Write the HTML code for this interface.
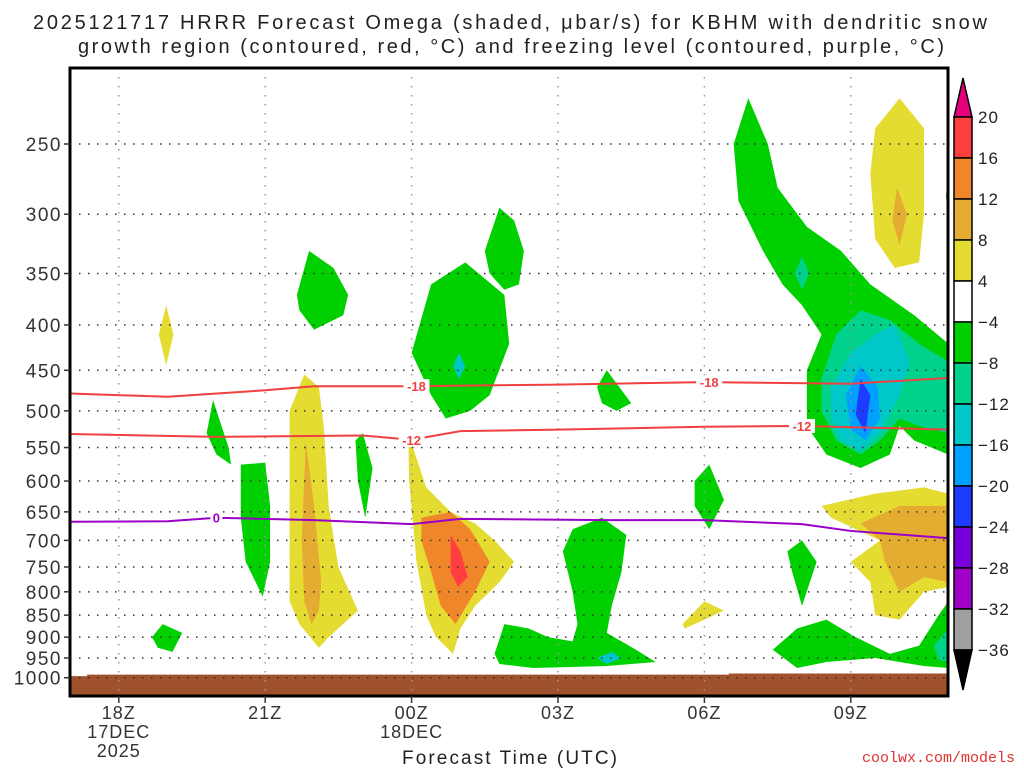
<!DOCTYPE html>
<html><head><meta charset="utf-8"><style>
body{margin:0;background:#fff;}
svg{display:block;font-family:"Liberation Sans",sans-serif;}
</style></head><body>
<svg id="chart" width="1024" height="768" viewBox="0 0 1024 768" xmlns="http://www.w3.org/2000/svg">
<text x="33" y="29" font-size="20" textLength="954" lengthAdjust="spacing" fill="#222">2025121717 HRRR Forecast Omega (shaded, μbar/s) for KBHM with dendritic snow</text>
<text x="78" y="53" font-size="20" textLength="866" lengthAdjust="spacing" fill="#222">growth region (contoured, red, °C) and freezing level (contoured, purple, °C)</text>
<g id="plot"></g>
<g id="cbar"></g>
<text x="402" y="764" font-size="19" textLength="215" lengthAdjust="spacing" fill="#222">Forecast Time (UTC)</text>
<text x="1015" y="762" font-size="15" text-anchor="end" fill="#e03030" font-family="Liberation Mono, monospace">coolwx.com/models</text>
</svg>
<script>
// hours since 17Z 17DEC; pressure hPa
const pTicks=[250,300,350,400,450,500,550,600,650,700,750,800,850,900,950,1000];
const tTickHours=[1,4,7,10,13,16];
const tTickLabels=[["18Z","17DEC","2025"],["21Z"],["00Z","18DEC"],["03Z"],["06Z"],["09Z"]];
const cbarLabels=["20","16","12","8","4","\u22124","\u22128","\u221212","\u221216","\u221220","\u221224","\u221228","\u221232","\u221236"];
const cbarColors=["#ff3f3f","#f0862a","#e5ac32","#e5dc32","#ffffff","#00d000","#00d28c","#00c8c8","#00a0ff","#1e3cff","#7800dc","#a000c8","#a0a0a0"];
const lineHours=[0,2,4,5,7,10,13,16,18];
const dgzTop=[478,482,474,469,469,467,464,466,459];
const dgzBottomHours=[0,3,6,7,8,10,13,15,18];
const dgzBottom=[531,535,533,539,527,525,521,520,525];
const frzHours=[0,2,3,5,7,8,11,13,15,16,18];
const frzLevel=[667,666,660,664,671,662,664,664,671,683,696];
const sfcHours=[0,0.35,0.35,13.5,13.5,18];
const sfcPres=[996,996,992,992,989,989];
const blobs=[
 ["#e5dc32",[[1.97,380],[2.12,410],[1.97,444],[1.82,410]]],
 ["#00d000",[[1.68,900],[1.9,870],[2.3,890],[2.1,935],[1.8,925]]],
 ["#00d000",[[2.93,486],[3.25,550],[3.3,575],[3.0,560],[2.8,530]]],
 ["#00d000",[[3.5,575],[4.0,572],[4.1,640],[4.1,740],[3.95,810],[3.6,740],[3.5,660]]],
 ["#e5dc32",[[4.5,500],[4.8,455],[5.1,470],[5.2,520],[5.3,640],[5.5,750],[5.9,840],[5.3,900],[5.1,925],[4.7,870],[4.5,820],[4.5,600]]],
 ["#e5ac32",[[4.83,540],[5.0,640],[5.15,780],[5.1,840],[4.95,870],[4.8,820],[4.75,700]]],
 ["#00d000",[[4.65,370],[4.9,330],[5.4,345],[5.7,370],[5.6,390],[5.0,405],[4.7,385]]],
 ["#00d000",[[5.85,540],[6.0,530],[6.2,580],[6.05,660],[5.9,600]]],
 ["#00d000",[[7.0,430],[7.4,360],[8.1,340],[8.9,370],[9.0,420],[8.6,480],[8.2,500],[7.7,510],[7.4,480]]],
 ["#00c8c8",[[7.97,430],[8.1,445],[7.97,460],[7.85,445]]],
 ["#e5dc32",[[6.93,530],[7.3,610],[7.8,650],[8.3,670],[8.7,700],[9.1,740],[8.8,780],[8.3,830],[8.0,880],[7.85,940],[7.5,900],[7.3,850],[7.1,740],[6.95,600]]],
 ["#f0862a",[[7.2,660],[7.8,650],[8.2,680],[8.6,740],[8.3,800],[7.9,870],[7.6,830],[7.4,760],[7.2,700]]],
 ["#ff3f3f",[[7.8,690],[8.0,720],[8.15,770],[7.95,790],[7.8,760]]],
 ["#00d000",[[8.5,330],[8.8,295],[9.1,305],[9.3,330],[9.2,360],[8.9,365],[8.6,350]]],
 ["#00d000",[[8.7,940],[8.9,870],[9.4,880],[9.8,900],[10.3,910],[10.4,870],[10.3,800],[10.1,720],[10.3,680],[10.9,660],[11.4,690],[11.3,760],[11.1,830],[11.0,890],[11.6,930],[12.0,960],[11.0,970],[9.5,975],[8.8,965]]],
 ["#00c8c8",[[10.8,950],[11.1,935],[11.3,950],[11.0,965]]],
 ["#00d000",[[10.8,470],[11.0,450],[11.5,490],[11.2,500],[10.9,490]]],
 ["#00d000",[[12.8,600],[13.1,575],[13.4,630],[13.1,680],[12.8,640]]],
 ["#e5dc32",[[12.55,870],[13.0,820],[13.4,840],[13.0,860],[12.6,880]]],
 ["#00d000",[[14.7,720],[15.0,700],[15.3,740],[15.0,830],[14.8,760]]],
 ["#00d000",[[13.6,250],[13.9,222],[14.3,250],[14.5,280],[15.1,310],[15.8,330],[16.4,360],[17.3,390],[18,420],[18,560],[17.3,540],[17.0,520],[16.8,560],[16.2,580],[15.5,560],[15.1,520],[15.1,450],[15.4,410],[15.0,380],[14.6,360],[14.2,330],[13.7,290]]],
 ["#00d28c",[[15.4,460],[15.7,410],[16.2,385],[16.8,395],[17.4,420],[18,440],[18,530],[17.4,520],[17.0,510],[16.6,540],[16.2,560],[15.7,540],[15.4,500]]],
 ["#00d28c",[[15.0,335],[15.15,350],[15.0,365],[14.85,350]]],
 ["#00c8c8",[[15.6,470],[16.0,430],[16.5,410],[16.9,400],[17.2,440],[17.0,480],[16.6,530],[16.2,555],[15.8,540],[15.6,510]]],
 ["#00a0ff",[[15.9,480],[16.2,445],[16.55,470],[16.6,510],[16.3,540],[16.0,525]]],
 ["#1e3cff",[[16.2,460],[16.4,480],[16.3,530],[16.1,505]]],
 ["#e5dc32",[[16.4,270],[16.5,240],[17.0,222],[17.5,240],[17.5,300],[17.4,340],[16.9,345],[16.5,320]]],
 ["#e5ac32",[[16.95,280],[17.15,300],[17.0,325],[16.85,305]]],
 ["#e5dc32",[[15.4,640],[16.5,620],[17.5,610],[18,620],[18,790],[17.5,800],[17.0,860],[16.5,850],[16.4,780],[16.0,740],[16.6,700],[15.6,660]]],
 ["#e5ac32",[[16.2,670],[17,640],[18,640],[18,780],[17.5,770],[17.0,800],[16.7,740],[16.6,700]]],
 ["#00d000",[[14.4,930],[14.9,880],[15.5,860],[16.1,900],[16.8,940],[17.4,920],[17.8,850],[18,820],[18,975],[17.5,970],[16.5,950],[15.5,960],[14.9,975]]],
 ["#00d28c",[[17.7,920],[18,880],[18,960],[17.8,955]]],
 ["#00d000",[[17.95,285],[18,275],[18,310]]]
];
const L=70,R=948,T=68,B=696;
const X=h=>L+h*48.8;
const Y=p=>144+385*Math.log(p/250);
const NS="http://www.w3.org/2000/svg";
function mk(parent,tag,attrs){const e=document.createElementNS(NS,tag);for(const k in attrs)e.setAttribute(k,attrs[k]);parent.appendChild(e);return e;}
const plot=document.getElementById('plot');
const clip=mk(plot,'clipPath',{id:'pc'});mk(clip,'rect',{x:L,y:T,width:R-L,height:B-T});
const g=mk(plot,'g',{'clip-path':'url(#pc)'});
blobs.forEach((b,i)=>{
 const el=mk(g,'polygon',{points:b[1].map(v=>X(v[0])+','+Y(v[1])).join(' '),fill:b[0]});
 
 
});
const gp=sfcHours.map((h,i)=>X(h)+','+Y(sfcPres[i])).join(' ')+' '+R+','+B+' '+L+','+B;
const ground=mk(g,'polygon',{points:gp,fill:'#a0522d'});


pTicks.forEach(p=>{
 const gl=mk(g,'line',{x1:L,x2:R,y1:Y(p),y2:Y(p),stroke:'#333','stroke-width':1.5,'stroke-dasharray':'1.5 7.5'});
 
 
});
tTickHours.forEach(h=>{
 const gl=mk(g,'line',{x1:X(h),x2:X(h),y1:T,y2:B,stroke:'#999','stroke-width':1.5,'stroke-dasharray':'1.5 7.5'});
 
 
});
function line(hs,ps,color,name){
 const d=hs.map((h,i)=>(i?'L':'M')+X(h)+','+Y(ps[i])).join(' ');
 const e=mk(g,'path',{d:d,fill:'none',stroke:color,'stroke-width':2});
 
 
}
line(lineHours,dgzTop,'#f04040','dgz-minus18-contour');
line(dgzBottomHours,dgzBottom,'#f04040','dgz-minus12-contour');
line(frzHours,frzLevel,'#9a00c8','freezing-level-contour');
function clabel(h,p,txt,color,name){
 const t=mk(g,'text',{x:X(h),y:Y(p)+5,'font-size':13,'font-weight':'bold','text-anchor':'middle',fill:color});
 t.textContent=txt;
 
 
}
function interp(hs,ps,h){for(let i=1;i<hs.length;i++){if(h<=hs[i]){const f=(h-hs[i-1])/(hs[i]-hs[i-1]);return ps[i-1]+f*(ps[i]-ps[i-1]);}}return ps[ps.length-1];}
[7.1,13.1].forEach(h=>{const p=interp(lineHours,dgzTop,h);mk(g,'rect',{x:X(h)-13,y:Y(p)-7,width:26,height:14,fill:'#fff'});clabel(h,p,'-18','#f04040','contour-label-minus18');});
[7.0,15.0].forEach(h=>{const p=interp(dgzBottomHours,dgzBottom,h);mk(g,'rect',{x:X(h)-13,y:Y(p)-7,width:26,height:14,fill:'#fff'});clabel(h,p,'-12','#f04040','contour-label-minus12');});
{const h=3.0,p=interp(frzHours,frzLevel,h);mk(g,'rect',{x:X(h)-6,y:Y(p)-7,width:12,height:14,fill:'#fff'});clabel(h,p,'0','#9a00c8','contour-label-0');}
mk(plot,'rect',{x:L,y:T,width:R-L,height:B-T,fill:'none',stroke:'#000','stroke-width':3});
pTicks.forEach(p=>{
 mk(plot,'line',{x1:L-6,x2:L,y1:Y(p),y2:Y(p),stroke:'#333','stroke-width':1.5});
 const t=mk(plot,'text',{x:L-8,y:Y(p)+7,'font-size':19,'letter-spacing':'1.5','text-anchor':'end',fill:'#333'});
 t.textContent=p;
 
 
});
tTickHours.forEach((h,i)=>{
 mk(plot,'line',{x1:X(h),x2:X(h),y1:B,y2:B+7,stroke:'#333','stroke-width':1.5});
 tTickLabels[i].forEach((s,j)=>{
  const t=mk(plot,'text',{x:X(h),y:B+23+j*19,'font-size':18,'letter-spacing':'1','text-anchor':'middle',fill:'#333'});
  t.textContent=s;
  
  
 });
});
const cb=document.getElementById('cbar');
const cx=954,cw=18,c0=117,ch=41;
mk(cb,'polygon',{points:`${cx},${c0} ${cx+cw},${c0} ${cx+cw/2},${c0-39}`,fill:'#e6007e',stroke:'#000','stroke-width':1.5});
cbarColors.forEach((c,i)=>{
 const r=mk(cb,'rect',{x:cx,y:c0+i*ch,width:cw,height:ch,fill:c,stroke:'#000','stroke-width':1.5});
 
 
});
const cEnd=c0+cbarColors.length*ch;
mk(cb,'polygon',{points:`${cx},${cEnd} ${cx+cw},${cEnd} ${cx+cw/2},${cEnd+40}`,fill:'#000',stroke:'#000','stroke-width':1.5});
cbarLabels.forEach((s,i)=>{
 const t=mk(cb,'text',{x:978,y:c0+i*ch+6,'font-size':17,'letter-spacing':'1',fill:'#222'});
 t.textContent=s;
 
 
});
</script>
</body></html>
